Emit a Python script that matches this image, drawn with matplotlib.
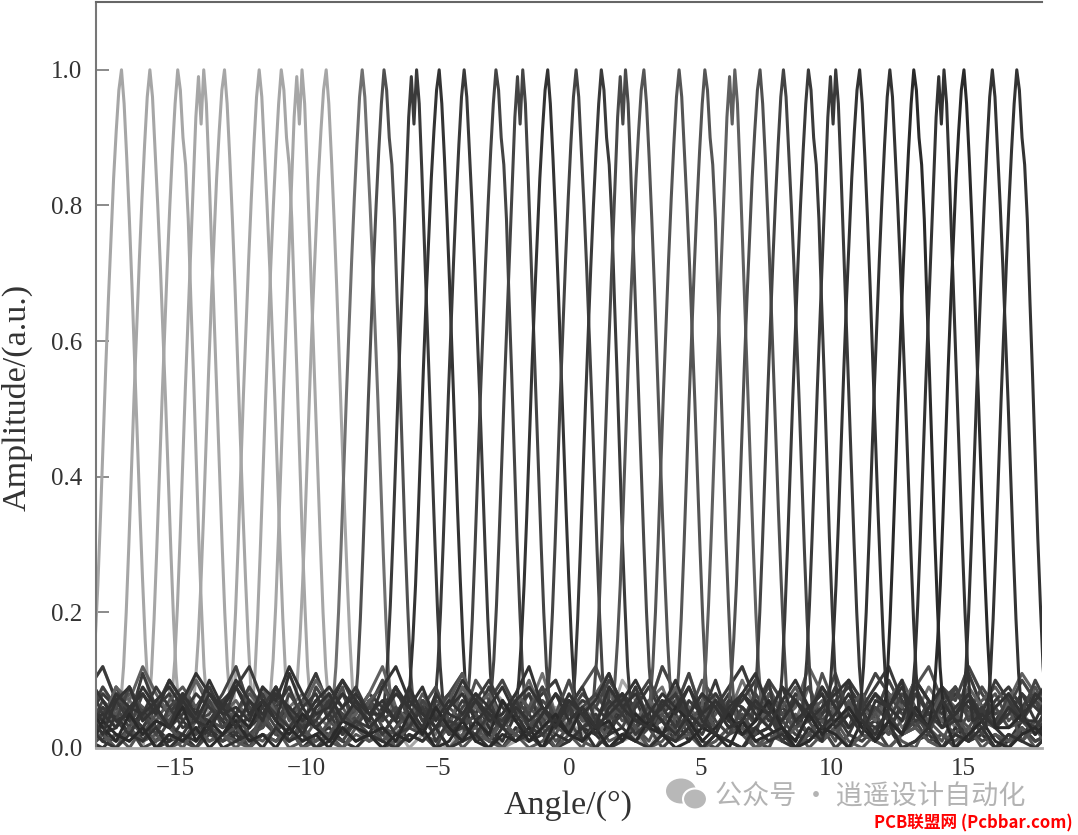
import numpy as np
import matplotlib
matplotlib.use("Agg")
import matplotlib.pyplot as plt
from matplotlib.patches import Ellipse

# ---------------- data ----------------
# beam centre angles (deg)
light_centers = [-17.03, -15.95, -14.89, -14.00, -13.11, -11.79, -10.95, -10.26, -9.24]
dark_centers = [-7.87, -7.04, -5.90, -4.94, -3.99, -2.78, -1.86, -0.81, 0.27, 1.23,
                2.05, 2.85, 4.19, 5.17, 6.21, 7.27, 8.16, 9.11, 10.05, 11.06,
                12.21, 13.12, 14.17, 15.03, 16.11, 17.04]
dark_colors = ['#707070', '#505050', '#3a3a3a', '#333333', '#3a3a3a', '#444444', '#444444',
               '#333333', '#444444', '#3a3a3a', '#4a4a4a', '#555555', '#555555', '#555555',
               '#606060', '#505050', '#444444', '#3a3a3a', '#3a3a3a', '#333333', '#333333',
               '#2a2a2a', '#333333', '#2a2a2a', '#333333', '#333333']

# main-lobe profile: offsets from beam centre (deg) and amplitude variants
lobe_offsets = [-1.2, -1.1, -1.0, -0.9, -0.8, -0.7, -0.6, -0.5, -0.4, -0.3, -0.2, -0.1, 0.0,
                0.1, 0.2, 0.3, 0.4, 0.5, 0.6, 0.7, 0.8, 0.9, 1.0, 1.1, 1.2]
lobe_a = [0.04, 0.07, 0.12, 0.20, 0.30, 0.41, 0.52, 0.62, 0.72, 0.81, 0.89, 0.96, 1.00,
          0.96, 0.88, 0.80, 0.71, 0.61, 0.51, 0.40, 0.29, 0.19, 0.11, 0.06, 0.04]
lobe_b = [0.03, 0.06, 0.11, 0.19, 0.29, 0.40, 0.51, 0.61, 0.71, 0.80, 0.88, 0.95, 1.00,
          0.97, 0.90, 0.86, 0.78, 0.66, 0.55, 0.43, 0.31, 0.21, 0.12, 0.07, 0.04]
lobe_c = [0.04, 0.08, 0.13, 0.21, 0.31, 0.42, 0.53, 0.63, 0.73, 0.83, 0.93, 0.99, 0.92,
          1.00, 0.95, 0.85, 0.74, 0.63, 0.52, 0.41, 0.30, 0.20, 0.12, 0.07, 0.04]
lobe_d = [0.06, 0.10, 0.16, 0.24, 0.34, 0.45, 0.56, 0.66, 0.75, 0.84, 0.91, 0.97, 1.00,
          0.95, 0.87, 0.78, 0.68, 0.57, 0.46, 0.35, 0.25, 0.16, 0.09, 0.05, 0.03]

# side-lobe floor traces (amplitude across the scan, -18.25 .. 18.25 deg)
side_0 = [0.04,0.06,0.03,0.07,0.05,0.02,0.06,0.08,0.04,0.03,0.07,0.05,0.09,0.04,0.02,0.06,0.08,0.05,0.03,0.07,0.10,0.06,0.03,0.05,0.08,0.04,0.02,0.06,0.09,0.05,0.03,0.07,0.04,0.06,0.11,0.05,0.03,0.06,0.04,0.08,0.05,0.02,0.07,0.09,0.04,0.06,0.03,0.08,0.05,0.10,0.06,0.03,0.07,0.04,0.09,0.05,0.02,0.06,0.08,0.04,0.07,0.03,0.05,0.09,0.06,0.03,0.08,0.05,0.04,0.07,0.05,0.03,0.06]
side_1 = [0.02,0.05,0.08,0.04,0.06,0.03,0.05,0.07,0.10,0.06,0.04,0.02,0.05,0.08,0.06,0.03,0.04,0.07,0.05,0.09,0.04,0.06,0.08,0.03,0.05,0.02,0.07,0.06,0.04,0.10,0.07,0.03,0.05,0.08,0.04,0.02,0.06,0.09,0.12,0.07,0.04,0.05,0.03,0.06,0.08,0.05,0.10,0.07,0.04,0.03,0.06,0.09,0.05,0.07,0.04,0.11,0.06,0.03,0.05,0.08,0.06,0.04,0.09,0.12,0.07,0.05,0.03,0.06,0.08,0.04,0.06,0.09,0.05]
side_2 = [0.05,0.02,0.03,0.06,0.01,0.04,0.03,0.02,0.05,0.04,0.07,0.03,0.02,0.04,0.06,0.09,0.04,0.03,0.05,0.02,0.04,0.06,0.03,0.07,0.05,0.10,0.04,0.02,0.03,0.05,0.01,0.04,0.07,0.05,0.02,0.04,0.06,0.03,0.05,0.02,0.08,0.05,0.03,0.04,0.01,0.06,0.03,0.05,0.08,0.04,0.02,0.03,0.06,0.04,0.02,0.05,0.09,0.06,0.03,0.04,0.02,0.07,0.05,0.03,0.06,0.09,0.05,0.03,0.04,0.07,0.02,0.04,0.03]
side_3 = [0.01,0.00,0.02,0.01,0.03,0.00,0.01,0.02,0.00,0.03,0.01,0.02,0.00,0.02,0.01,0.03,0.00,0.02,0.03,0.01,0.00,0.02,0.01,0.03,0.00,0.02,0.01,0.00,0.03,0.01,0.02,0.00,0.03,0.01,0.02,0.00,0.01,0.03,0.02,0.00,0.01,0.03,0.00,0.02,0.01,0.03,0.00,0.02,0.01,0.00,0.02,0.03,0.01,0.00,0.02,0.01,0.03,0.00,0.02,0.01,0.03,0.00,0.01,0.02,0.00,0.03,0.01,0.02,0.00,0.01,0.03,0.01,0.02]
side_4 = [0.05,0.08,0.06,0.09,0.04,0.07,0.05,0.08,0.06,0.03,0.07,0.09,0.06,0.04,0.08,0.05,0.07,0.11,0.06,0.04,0.05,0.08,0.06,0.09,0.05,0.07,0.04,0.08,0.06,0.05,0.09,0.07,0.04,0.06,0.08,0.10,0.05,0.07,0.06,0.04,0.08,0.06,0.09,0.05,0.07,0.04,0.06,0.08,0.05,0.07,0.10,0.06,0.04,0.08,0.06,0.05,0.07,0.09,0.06,0.04,0.08,0.06,0.10,0.07,0.05,0.08,0.06,0.04,0.07,0.09,0.06,0.08,0.05]
side_5 = [0.00,0.02,0.01,0.03,0.00,0.01,0.04,0.01,0.00,0.02,0.01,0.03,0.00,0.04,0.02,0.01,0.03,0.00,0.02,0.01,0.04,0.02,0.00,0.01,0.03,0.02,0.00,0.04,0.01,0.02,0.03,0.00,0.01,0.03,0.02,0.00,0.04,0.01,0.03,0.00,0.02,0.01,0.03,0.00,0.02,0.04,0.01,0.00,0.02,0.03,0.01,0.00,0.04,0.02,0.01,0.03,0.00,0.02,0.01,0.03,0.00,0.02,0.04,0.01,0.02,0.00,0.03,0.01,0.02,0.00,0.03,0.01,0.02]
side_6 = [0.07,0.04,0.09,0.05,0.03,0.06,0.10,0.07,0.04,0.05,0.08,0.12,0.06,0.04,0.07,0.05,0.03,0.09,0.06,0.08,0.04,0.06,0.10,0.05,0.03,0.07,0.05,0.08,0.11,0.06,0.04,0.07,0.05,0.09,0.06,0.03,0.05,0.08,0.06,0.10,0.07,0.04,0.06,0.12,0.08,0.05,0.03,0.06,0.04,0.08,0.06,0.10,0.07,0.04,0.05,0.09,0.06,0.03,0.07,0.11,0.08,0.05,0.06,0.04,0.09,0.07,0.12,0.08,0.05,0.06,0.10,0.07,0.05]
side_7 = [0.03,0.01,0.05,0.02,0.06,0.03,0.01,0.04,0.02,0.07,0.04,0.01,0.03,0.05,0.02,0.06,0.03,0.04,0.01,0.05,0.03,0.02,0.06,0.04,0.01,0.03,0.05,0.02,0.04,0.07,0.03,0.01,0.05,0.02,0.04,0.06,0.03,0.01,0.04,0.02,0.06,0.03,0.05,0.02,0.04,0.01,0.07,0.03,0.05,0.02,0.04,0.06,0.03,0.01,0.05,0.02,0.04,0.03,0.06,0.01,0.04,0.02,0.05,0.03,0.07,0.04,0.02,0.05,0.03,0.01,0.04,0.03,0.02]

x_ticks = [-15, -10, -5, 0, 5, 10, 15]
y_ticks = [0.0, 0.2, 0.4, 0.6, 0.8, 1.0]

# ---------------- drawing ----------------
lobes = [lobe_a, lobe_b, lobe_c, lobe_d]
sides = [side_0, side_1, side_2, side_3, side_4, side_5, side_6, side_7]


def beam_trace(center, idx):
    side = np.roll(np.asarray(sides[idx % len(sides)]), (idx // len(sides)) * 11)
    sx = np.linspace(-18.25, 18.25, len(side))
    off = np.asarray(lobe_offsets)
    keep = np.abs(sx - center) > off.max()
    x = np.concatenate([sx[keep], center + off])
    y = np.concatenate([side[keep], np.asarray(lobes[idx % len(lobes)])])
    order = np.argsort(x)
    return x[order], y[order]


fig = plt.figure(figsize=(10.78, 8.35), dpi=100)
ax = fig.add_axes([96 / 1078, 1 - 748 / 835, (1042 - 96) / 1078, (748 - 2) / 835])

for i, c in enumerate(light_centers):
    x, y = beam_trace(c, i + 3)
    ax.plot(x, y, color='#a6a6a6', lw=2.2, solid_joinstyle='round')

for i, (c, col) in enumerate(zip(dark_centers, dark_colors)):
    x, y = beam_trace(c, i)
    ax.plot(x, y, color=col, lw=2.2, solid_joinstyle='round')

ax.set_xlim(-18, 18)
ax.set_ylim(0, 1.1)
ax.set_xticks(x_ticks)
ax.set_xticklabels(['\u2212%d' % -v if v < 0 else '%d' % v for v in x_ticks])
ax.set_yticks(y_ticks)
ax.set_yticklabels(['%.1f' % v for v in y_ticks])

serif = 'Liberation Serif'
for lab in ax.get_xticklabels() + ax.get_yticklabels():
    lab.set_fontfamily(serif)
ax.tick_params(axis='y', direction='in', length=9, width=1.2, color='#777777',
               labelsize=18, labelcolor='#333333', pad=10)
ax.tick_params(axis='x', length=0, labelsize=18, labelcolor='#333333', pad=7)

ax.spines['right'].set_visible(False)
ax.spines['top'].set_color('#666666')
ax.spines['top'].set_linewidth(1.5)
ax.spines['left'].set_color('#777777')
ax.spines['left'].set_linewidth(1.5)
ax.spines['bottom'].set_color('#aaaaaa')
ax.spines['bottom'].set_linewidth(2.0)

fig.text(568 / 1078, 1 - 806 / 835, 'Angle/(°)', ha='center', va='center',
         fontsize=24.5, family=serif, color='#333333')
fig.text(17 / 1078, 1 - 397 / 835, 'Amplitude/(a.u.)', ha='center', va='center',
         rotation=90, fontsize=24.5, family=serif, color='#333333')

# watermark
fig.patches.append(Ellipse((681 / 1078, 1 - 791 / 835), 30 / 1078, 25 / 835,
                           transform=fig.transFigure, facecolor='#b8b8b8', edgecolor='none'))
fig.patches.append(Ellipse((695 / 1078, 1 - 799 / 835), 24 / 1078, 21 / 835,
                           transform=fig.transFigure, facecolor='#b8b8b8', edgecolor='white', lw=1.5))
fig.text(715 / 1078, 1 - 797 / 835, '公众号 · 逍遥设计自动化', ha='left', va='center',
         fontsize=19.5, color='#b3b3b3', family=['Noto Sans CJK SC', 'DejaVu Sans'])
fig.text(1073 / 1078, 1 - 823 / 835, 'PCB联盟网 (Pcbbar.com)', ha='right', va='center',
         fontsize=12, color='#ff0000', fontweight='bold',
         family=['Noto Sans CJK SC', 'DejaVu Sans'])

fig.savefig('out.png', dpi=100)
